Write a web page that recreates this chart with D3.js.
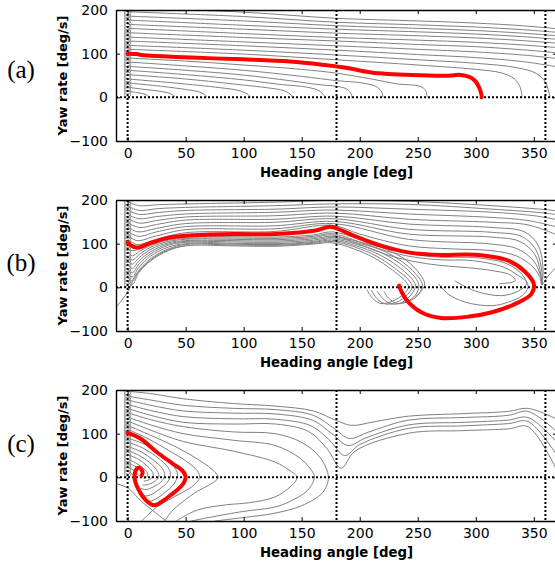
<!DOCTYPE html>
<html>
<head>
<meta charset="UTF-8">
<style>
  body { margin: 0; background: #fff; }
  svg { display: block; }
</style>
</head>
<body>
<svg id="chart"></svg>
<script src="https://d3js.org/d3.v7.min.js"></script>
<script>
// ticks and guide lines
const xTicks = [0, 50, 100, 150, 200, 250, 300, 350];
const yTicks = [-100, 0, 100, 200];
const headingGuides = [0, 180, 360];
const yawGuides = [0];
const panelNames = ["(a)", "(b)", "(c)"];
const xLabel = "Heading angle [deg]";
const yLabel = "Yaw rate [deg/s]";

// initial yaw rates, drawn as circles at heading 0
const startMarks = [8, 15, 22, 29, 36, 43, 50, 57, 64, 71, 78, 85, 92, 99, 106, 113, 120, 127, 134, 141, 148, 155, 162, 169, 176, 183, 190, 196];

// ---- panel (a) ----
const redA = [[0,100],[8,99],[12,97],[55,91],[100,87],[140,82],[170,74],[185,69],[192,66],[210,57],[245,51],[280,50],[285,52],[290,50],[296,45],[300,36],[303,22],[305,5],[305,0]];
const grayA = [
  [[0,14],[8,11],[15,7],[19,0]],
  [[0,23],[15,18],[30,13],[38,7],[41,0]],
  [[0,33],[30,25],[50,18],[62,12],[67,5],[68,0]],
  [[0,42],[40,33],[80,22],[95,16],[103,8],[106,0]],
  [[0,52],[50,42],[100,28],[120,22],[135,15],[141,5],[142,0]],
  [[0,62],[50,52],[100,40],[130,30],[155,23],[165,15],[169,5],[170,0]],
  [[0,71],[50,62],[100,51],[140,38],[165,29],[183,24],[190,17],[193,5],[193,0]],
  [[0,81],[50,72],[100,62],[150,48],[181,38],[202,33],[214,25],[219,12],[220,0]],
  [[0,90],[50,83],[100,74],[150,64],[181,55],[210,42],[232,31],[252,25],[257,15],[258,0]],
  [[0,110],[100,99],[180,86],[250,74],[300,64],[322,56],[333,43],[338,25],[340,0]],
  [[0,119],[100,108],[180,97],[250,86],[300,78],[335,68],[352,55],[360,35],[364,0]],
  [[0,129],[100,118],[180,108],[250,98],[300,91],[340,82],[370,70]],
  [[0,138],[100,127],[180,118],[250,110],[300,104],[340,97],[370,89]],
  [[0,148],[100,137],[180,129],[250,121],[300,116],[340,109],[370,102]],
  [[0,158],[100,146],[180,137],[250,131],[300,126],[340,120],[370,114]],
  [[0,167],[100,156],[180,147],[250,141],[300,136],[340,130],[370,124]],
  [[0,177],[100,165],[180,156],[250,150],[300,145],[340,139],[370,133]],
  [[0,186],[100,175],[180,164],[250,158],[300,153],[340,147],[370,141]],
  [[0,196],[100,185],[180,172],[250,166],[300,161],[340,155],[370,149]],
  [[0,205],[100,195],[180,181],[250,175],[300,170],[340,164],[370,157]]
];

// ---- panel (b) ----
const redB = [[0,103],[3,96],[8,91],[12,93],[17,99],[25,106],[34,113],[50,118],[90,122],[128,122],[162,130],[174,139],[180,135],[199,114],[219,95],[242,80],[270,74],[293,75],[314,70],[328,61],[342,37],[350,8],[348,-15],[334,-38],[314,-57],[294,-67],[270,-70],[253,-57],[241,-31],[235,-4],[234,4]];
const grayB = [
  [[0,14],[4,6],[10,35],[20,61],[35,84],[50,95],[90,95],[127,94],[160,99],[176,102],[195,88],[212,68],[228,40],[240,12],[242,0],[238,-15],[228,-32],[218,-37],[211,-25],[206,-5]],
  [[0,23],[4,14],[10,40],[20,66],[35,88],[50,98],[90,97],[127,96],[160,101],[176,105],[196,92],[214,72],[230,44],[243,14],[245,0],[241,-17],[232,-34],[222,-38],[215,-26],[210,-6]],
  [[0,33],[4,24],[10,47],[20,72],[35,92],[50,100],[90,99],[127,98],[160,103],[176,108],[197,95],[216,76],[233,48],[246,16],[248,2],[244,-18],[236,-35],[227,-38],[220,-26],[215,-8]],
  [[0,42],[4,33],[10,54],[20,77],[35,96],[50,103],[90,101],[127,100],[160,105],[176,111],[198,98],[218,80],[236,52],[249,18],[251,3],[248,-18],[240,-34],[232,-37],[225,-25],[221,-10]],
  [[0,52],[4,43],[10,61],[20,82],[35,99],[50,105],[90,104],[127,103],[160,108],[176,114],[199,101],[220,84],[238,56],[251,22],[254,5],[251,-15],[244,-30],[236,-35]],
  [[0,62],[4,53],[10,68],[20,87],[35,102],[50,107],[90,107],[127,106],[160,111],[176,117],[200,104],[222,88],[240,62],[252,30],[256,8],[254,-5],[248,-22]],
  [[0,71],[4,62],[10,75],[20,92],[35,105],[50,110],[90,110],[127,109],[160,114],[176,120],[200,98],[222,76],[245,60],[270,50],[293,45],[315,38],[330,28],[334,15],[320,8]],
  [[0,81],[4,72],[10,82],[20,96],[35,108],[50,112],[90,113],[127,112],[160,117],[176,123],[200,104],[222,84],[245,70],[270,63],[293,62],[310,56],[325,45],[336,28],[344,10],[337,-8],[322,-19],[299,-8],[282,15]],
  [[0,90],[4,84],[10,88],[20,100],[35,110],[50,115],[90,116],[127,115],[160,120],[176,127],[200,110],[222,90],[245,76],[270,69],[293,69],[312,64],[326,55],[338,35],[344,12],[345,0],[340,-19],[328,-34],[314,-42],[291,-34],[276,-15],[268,8]],
  [[0,110],[8,98],[25,110],[50,125],[127,128],[176,142],[200,122],[242,95],[280,88],[314,84],[335,72],[348,50],[355,25],[357,6],[362,25],[370,48]],
  [[0,119],[8,107],[25,118],[50,132],[127,134],[177,146],[242,110],[314,99],[336,88],[350,60],[356,25],[357,6]],
  [[0,129],[9,117],[25,127],[50,139],[127,141],[178,151],[242,122],[314,115],[338,105],[351,75],[356,30],[357,6]],
  [[0,138],[9,127],[25,135],[50,146],[127,149],[178,157],[242,133],[314,126],[340,116],[352,85],[357,35],[357,6]],
  [[0,148],[10,137],[25,144],[50,154],[127,156],[178,163],[242,145],[314,137],[342,127],[354,95],[358,40],[357,6]],
  [[0,158],[10,147],[25,153],[50,161],[127,164],[178,170],[242,156],[314,149],[345,143],[370,120]],
  [[0,167],[10,157],[25,162],[50,168],[127,172],[177,177],[242,168],[314,160],[345,153],[370,138]],
  [[0,177],[10,167],[25,171],[50,176],[127,179],[177,184],[242,179],[314,172],[350,164],[370,155]],
  [[0,186],[10,176],[25,180],[50,183],[127,187],[176,191],[242,190],[314,179],[360,170],[370,166]],
  [[0,196],[10,187],[25,189],[50,191],[127,195],[176,199],[242,197],[314,187],[360,178],[370,175]],
  [[-10,-46],[-1,-15],[3.5,8],[6,25],[11,40],[20,63],[35,86],[50,96]]
];

// ---- panel (c) ----
const redC = [[0,102],[11,89],[25,58],[39,31],[47,16],[50,1],[47,-18],[37,-41],[31,-53],[23,-64],[16,-53],[9,-26],[6,1],[8,20],[10,22],[13,12],[12,4]];
const grayC = [
  [[0,14],[3,10],[5,5]],
  [[0,23],[5,17],[8,10],[9,4]],
  [[0,33],[6,26],[11,17],[13,7],[12,1]],
  [[0,42],[7,33],[13,22],[17,10],[17,2],[14,-3]],
  [[0,52],[9,42],[16,28],[21,14],[22,3],[19,-5],[14,-9]],
  [[0,62],[10,50],[19,34],[25,17],[27,3],[24,-8],[18,-16],[13,-18]],
  [[0,71],[12,58],[22,40],[30,20],[32,5],[29,-10],[22,-22],[16,-28],[11,-25]],
  [[0,81],[14,66],[26,45],[35,22],[37,5],[34,-12],[27,-28],[20,-40],[14,-42],[10,-32]],
  [[0,90],[15,75],[30,50],[40,25],[43,5],[40,-15],[32,-35],[24,-50],[18,-55],[12,-45]],
  [[0,110],[18,88],[35,62],[50,38],[60,15],[62,0],[57,-18],[47,-35],[35,-52],[25,-68],[18,-85],[12,-100]],
  [[0,119],[20,96],[40,72],[60,42],[72,20],[78,0],[70,-18],[60,-32],[47,-57],[38,-78],[32,-100]],
  [[0,129],[20,108],[48,82],[91,60],[127,35],[140,15],[146,0],[140,-22],[127,-45],[105,-58],[85,-63],[60,-75],[42,-100]],
  [[0,138],[20,120],[48,100],[91,85],[127,73],[148,45],[158,18],[161,0],[155,-30],[140,-55],[127,-68],[100,-78],[70,-92],[55,-100]],
  [[0,148],[20,132],[48,116],[91,104],[127,100],[150,80],[166,45],[173,0],[168,-35],[150,-65],[127,-82],[100,-92],[75,-100]],
  [[0,158],[20,142],[48,126],[91,122],[128,122],[156,105],[172,65],[184,21],[196,60],[242,101],[290,107],[328,111],[345,116],[370,15]],
  [[0,167],[20,153],[48,139],[91,134],[128,133],[158,118],[174,85],[187,50],[200,75],[242,112],[290,118],[328,123],[345,128],[370,50]],
  [[0,177],[20,165],[48,152],[91,147],[128,145],[160,130],[176,100],[190,73],[205,90],[242,120],[290,126],[328,131],[345,137],[370,80]],
  [[0,186],[20,177],[48,165],[91,158],[128,155],[160,142],[178,112],[191,89],[208,104],[242,131],[290,137],[328,142],[345,151],[370,104]],
  [[0,197],[19,192],[48,180],[91,169],[128,163],[160,152],[180,130],[193,119],[212,127],[242,140],[290,146],[328,151],[345,158],[370,133]],
  [[-10,-14],[1,-26],[11,-53],[25,-83],[33,-100]]
];

let width = 555, height = 567;
const svg = d3.select("#chart").attr("width", width).attr("height", height);

const plotH = 131;
const x = d3.scaleLinear().domain([-10, 370]).range([116, 557]);
const y = d3.scaleLinear().domain([-100, 200]).range([plotH, 0]);

const line = d3.line()
  .x(d => x(d[0]))
  .y(d => y(d[1]))
  .curve(d3.curveCatmullRom.alpha(0.5));

const panels = [
  {name: panelNames[0], gray: grayA, red: redA, top: 10, labelY: 78},
  {name: panelNames[1], gray: grayB, red: redB, top: 200, labelY: 271},
  {name: panelNames[2], gray: grayC, red: redC, top: 390, labelY: 452}
];

panels.forEach((p, i) => {
  const g = svg.append("g").attr("transform", "translate(0," + p.top + ")");

  g.append("clipPath").attr("id", "clip" + i)
    .append("rect")
    .attr("x", x(-10)).attr("y", 0)
    .attr("width", x(370) - x(-10)).attr("height", plotH);

  const plot = g.append("g").attr("clip-path", "url(#clip" + i + ")");

  // trajectories
  plot.append("g").selectAll("path")
    .data(p.gray)
    .enter().append("path")
    .attr("d", line)
    .attr("fill", "none")
    .attr("stroke", "#808080")
    .attr("stroke-width", 1);

  // start markers
  plot.append("g").selectAll("circle")
    .data(startMarks)
    .enter().append("circle")
    .attr("cx", x(0))
    .attr("cy", d => y(d))
    .attr("r", 3.3)
    .attr("fill", "none")
    .attr("stroke", "#8c8c8c")
    .attr("stroke-width", 0.8);

  // dotted guides
  plot.append("g").selectAll("line")
    .data(headingGuides)
    .enter().append("line")
    .attr("x1", d => x(d)).attr("x2", d => x(d))
    .attr("y1", 0).attr("y2", plotH)
    .attr("stroke", "#000").attr("stroke-width", 2)
    .attr("stroke-dasharray", "2,2");

  plot.append("g").selectAll("line")
    .data(yawGuides)
    .enter().append("line")
    .attr("x1", x(-10)).attr("x2", x(370))
    .attr("y1", d => y(d)).attr("y2", d => y(d))
    .attr("stroke", "#000").attr("stroke-width", 2)
    .attr("stroke-dasharray", "2,2");

  // highlighted trajectory
  plot.append("path")
    .attr("d", line(p.red))
    .attr("fill", "none")
    .attr("stroke", "#ff0000")
    .attr("stroke-width", 4)
    .attr("stroke-linejoin", "round")
    .attr("stroke-linecap", "round");

  // axes with inward ticks on all sides
  const ax = [
    d3.axisBottom(x).tickValues(xTicks).tickSizeInner(-4).tickSizeOuter(0).tickPadding(7),
    d3.axisTop(x).tickValues(xTicks).tickSizeInner(-4).tickSizeOuter(0).tickFormat(""),
    d3.axisLeft(y).tickValues(yTicks).tickSizeInner(-4).tickSizeOuter(0).tickPadding(8),
    d3.axisRight(y).tickValues(yTicks).tickSizeInner(-4).tickSizeOuter(0).tickFormat("")
  ];
  const pos = ["translate(0," + plotH + ")", "translate(0,0)",
               "translate(" + x(-10) + ",0)", "translate(" + x(370) + ",0)"];
  ax.forEach((a, k) => {
    const ag = g.append("g").attr("transform", pos[k]).call(a);
    ag.select(".domain").attr("stroke", "#000").attr("stroke-width", 1.4);
    ag.selectAll(".tick line").attr("stroke", "#000").attr("stroke-width", 1);
    ag.selectAll(".tick text")
      .attr("font-family", "DejaVu Sans")
      .attr("font-size", 14)
      .attr("fill", "#000");
  });

  g.append("text")
    .attr("x", x(180)).attr("y", plotH + 36)
    .attr("text-anchor", "middle")
    .attr("font-family", "DejaVu Sans").attr("font-weight", "bold")
    .attr("font-size", 13.3)
    .text(xLabel);

  g.append("text")
    .attr("transform", "translate(67," + (plotH / 2) + ") rotate(-90)")
    .attr("text-anchor", "middle")
    .attr("font-family", "DejaVu Sans").attr("font-weight", "bold")
    .attr("font-size", 13)
    .text(yLabel);

  svg.append("text")
    .attr("x", 21).attr("y", p.labelY)
    .attr("text-anchor", "middle")
    .attr("font-family", "Liberation Serif")
    .attr("font-size", 25)
    .text(p.name);
});
</script>
</body>
</html>
